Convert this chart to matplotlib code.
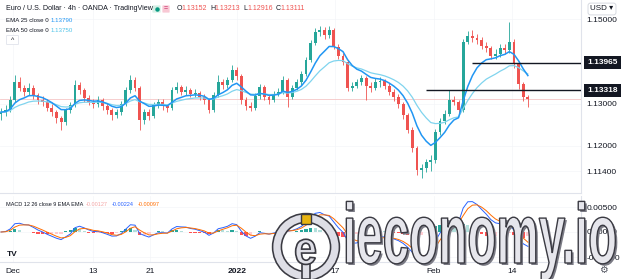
import matplotlib
matplotlib.use("Agg")
import matplotlib.pyplot as plt
import matplotlib.transforms as mtrans
import numpy as np
import pandas as pd
from matplotlib.patches import Circle, Rectangle, PathPatch, FancyBboxPatch
from matplotlib.textpath import TextPath
from matplotlib.font_manager import FontProperties

# EUR/USD, one candle per half trading day
closes = [1.1280, 1.1285, 1.1309, 1.1351, 1.1337, 1.1328, 1.1337, 1.1321, 1.1309, 1.1304,
          1.1290, 1.1280, 1.1266, 1.1257, 1.1285, 1.1297, 1.1344, 1.1332, 1.1313, 1.1304,
          1.1299, 1.1309, 1.1295, 1.1285, 1.1273, 1.1280, 1.1299, 1.1332, 1.1356, 1.1337,
          1.1261, 1.1280, 1.1271, 1.1297, 1.1304, 1.1295, 1.1290, 1.1332, 1.1339, 1.1328,
          1.1332, 1.1323, 1.1325, 1.1316, 1.1309, 1.1285, 1.1321, 1.1351, 1.1344, 1.1356,
          1.1380, 1.1365, 1.1309, 1.1295, 1.1290, 1.1318, 1.1339, 1.1316, 1.1309, 1.1323,
          1.1328, 1.1356, 1.1316, 1.1337, 1.1351, 1.1370, 1.1403, 1.1443, 1.1469, 1.1474,
          1.1462, 1.1474, 1.1434, 1.1413, 1.1398, 1.1337, 1.1342, 1.1351, 1.1361, 1.1342,
          1.1337, 1.1351, 1.1353, 1.1342, 1.1328, 1.1316, 1.1299, 1.1273, 1.1238, 1.1195,
          1.1143, 1.1148, 1.1162, 1.1167, 1.1233, 1.1259, 1.1276, 1.1309, 1.1304, 1.1285,
          1.1446, 1.1460, 1.1455, 1.1450, 1.1436, 1.1431, 1.1413, 1.1417, 1.1431, 1.1427,
          1.1446, 1.1394, 1.1347, 1.1316, 1.1311]
highs = [1.1290, 1.1296, 1.1318, 1.1367, 1.1362, 1.1345, 1.1348, 1.1343, 1.1326, 1.1318,
         1.1310, 1.1298, 1.1286, 1.1272, 1.1290, 1.1305, 1.1356, 1.1350, 1.1337, 1.1320,
         1.1312, 1.1318, 1.1314, 1.1301, 1.1290, 1.1288, 1.1306, 1.1340, 1.1368, 1.1362,
         1.1341, 1.1288, 1.1287, 1.1304, 1.1312, 1.1310, 1.1300, 1.1340, 1.1350, 1.1345,
         1.1341, 1.1338, 1.1334, 1.1330, 1.1322, 1.1314, 1.1328, 1.1367, 1.1358, 1.1363,
         1.1392, 1.1386, 1.1370, 1.1316, 1.1304, 1.1325, 1.1346, 1.1344, 1.1322, 1.1330,
         1.1336, 1.1366, 1.1360, 1.1345, 1.1358, 1.1378, 1.1410, 1.1450, 1.1478, 1.1483,
         1.1480, 1.1484, 1.1478, 1.1440, 1.1420, 1.1402, 1.1350, 1.1358, 1.1368, 1.1365,
         1.1350, 1.1360, 1.1362, 1.1358, 1.1348, 1.1334, 1.1322, 1.1304, 1.1278, 1.1244,
         1.1200, 1.1157, 1.1170, 1.1178, 1.1240, 1.1266, 1.1285, 1.1333, 1.1318, 1.1308,
         1.1452, 1.1472, 1.1474, 1.1465, 1.1458, 1.1445, 1.1436, 1.1428, 1.1440, 1.1440,
         1.1493, 1.1452, 1.1400, 1.1352, 1.1321]
lows = [1.1262, 1.1271, 1.1280, 1.1303, 1.1330, 1.1318, 1.1320, 1.1312, 1.1300, 1.1294,
        1.1282, 1.1270, 1.1255, 1.1238, 1.1250, 1.1278, 1.1292, 1.1322, 1.1305, 1.1296,
        1.1290, 1.1292, 1.1286, 1.1276, 1.1262, 1.1265, 1.1274, 1.1294, 1.1326, 1.1330,
        1.1238, 1.1252, 1.1262, 1.1265, 1.1290, 1.1286, 1.1280, 1.1285, 1.1325, 1.1320,
        1.1321, 1.1315, 1.1316, 1.1308, 1.1300, 1.1277, 1.1280, 1.1316, 1.1335, 1.1338,
        1.1350, 1.1356, 1.1300, 1.1285, 1.1282, 1.1285, 1.1312, 1.1308, 1.1300, 1.1303,
        1.1318, 1.1322, 1.1292, 1.1310, 1.1332, 1.1345, 1.1365, 1.1398, 1.1438, 1.1460,
        1.1452, 1.1456, 1.1428, 1.1405, 1.1392, 1.1330, 1.1330, 1.1336, 1.1345, 1.1308,
        1.1328, 1.1332, 1.1340, 1.1335, 1.1320, 1.1306, 1.1290, 1.1264, 1.1230, 1.1185,
        1.1132, 1.1124, 1.1138, 1.1140, 1.1160, 1.1226, 1.1252, 1.1270, 1.1296, 1.1276,
        1.1280, 1.1440, 1.1446, 1.1440, 1.1428, 1.1422, 1.1405, 1.1406, 1.1410, 1.1418,
        1.1420, 1.1385, 1.1335, 1.1306, 1.1292]
first_open = 1.1275

date_pos = [2.6, 19.9, 32.3, 51.1, 72.3, 93.7, 110.6]
date_lbl = ["Dec", "13", "21", "2022", "17", "Feb", "14"]
price_ticks = [1.15, 1.13, 1.12, 1.114]
macd_ticks = [0.005, 0.0, -0.005]
levels = [1.13965, 1.13318]
level_from = [102, 92]
last_price = 1.13111

GREEN, RED = "#26a69a", "#ef5350"
EMA_FAST, EMA_SLOW = "#2196f3", "#80d4ee"
W, H = 624, 279

c = np.array(closes)
o = np.array([first_open] + closes[:-1])
idx = np.arange(len(c))
up = c >= o
col = np.where(up, GREEN, RED)

# indicators (periods scaled to half-day candles)
s = pd.Series(c)
ema25 = s.ewm(span=8, adjust=False).mean()
ema50 = s.ewm(span=17, adjust=False).mean()
macd = s.ewm(span=4, adjust=False).mean() - s.ewm(span=9, adjust=False).mean()
signal = macd.ewm(span=3, adjust=False).mean()
hist = (macd - signal).values
prev = np.r_[0, hist[:-1]]
hcol = np.where(hist >= 0, np.where(hist > prev, "#26a69a", "#b2dfdb"),
                np.where(hist > prev, "#ffcdd2", "#ff5252"))


def frame(x0, y0, x1, y1):
    return [x0 / W, 1 - y1 / H, (x1 - x0) / W, (y1 - y0) / H]


plt.rcParams['font.family'] = ['Liberation Sans', 'DejaVu Sans']
fig = plt.figure(figsize=(6.24, 2.79), dpi=100)
ax = fig.add_axes(frame(0, 0, 581, 193))
axm = fig.add_axes(frame(0, 196, 581, 262), sharex=ax)

# candles
ax.vlines(idx, lows, highs, colors=col, lw=0.6, zorder=2)
ax.bar(idx, np.maximum(np.abs(c - o), 0.00005), bottom=np.minimum(o, c),
       width=0.62, color=col, zorder=3)
ax.plot(idx, ema50, color=EMA_SLOW, lw=0.9, zorder=4)
ax.plot(idx, ema25, color=EMA_FAST, lw=1.1, zorder=5)
ax.axhline(last_price, color="#f5c6c6", lw=0.6, zorder=1)
for lv, x0 in zip(levels, level_from):
    ax.hlines(lv, x0, 125.5, color="#131722", lw=1.0, zorder=6)
    ax.text(1.037, lv, f"{lv:.5f}", transform=ax.get_yaxis_transform(),
            ha="center", va="center", fontsize=6, color="white", weight="bold",
            bbox=dict(boxstyle="square,pad=0.35", fc="#131722", ec="none"), clip_on=False)

ax.set_xlim(-0.22, 125.5)
ax.set_ylim(1.10889, 1.15449)
ax.set_yticks(price_ticks)
ax.set_yticklabels([f"{v:.5f}" for v in price_ticks])

# MACD pane
axm.bar(idx, hist, width=0.7, color=hcol, zorder=2)
axm.plot(idx, macd, color="#2962ff", lw=0.7, zorder=3)
axm.plot(idx, signal, color="#ff6d00", lw=0.7, zorder=3)
axm.set_ylim(-0.006, 0.0072)
axm.set_yticks(macd_ticks)
axm.set_yticklabels(["0.00500", "0.00000", "-0.00500"])
axm.set_xticks(date_pos)
axm.set_xticklabels(date_lbl)
axm.get_xticklabels()[3].set_fontweight("bold")

for a in (ax, axm):
    a.yaxis.tick_right()
    a.tick_params(axis="y", length=0, pad=4, labelsize=6, labelcolor="#131722")
    a.tick_params(axis="x", length=0, pad=4, labelsize=6, labelcolor="#131722")
    for sp in ("top", "left"):
        a.spines[sp].set_visible(False)
    for sp in ("right", "bottom"):
        a.spines[sp].set_color("#e0e3eb")
        a.spines[sp].set_linewidth(0.8)
    a.grid(color="#f4f5f8", lw=0.5, zorder=0)
    a.set_axisbelow(True)
ax.tick_params(axis="x", labelbottom=False)

# overlay in pixel coordinates for header texts and watermark
ov = fig.add_axes([0, 0, 1, 1], zorder=10)
ov.set_xlim(0, W)
ov.set_ylim(H, 0)
ov.axis("off")
ov.patch.set_alpha(0)

ov.text(6, 9, "Euro / U.S. Dollar · 4h · OANDA · TradingView", fontsize=5.1,
        color="#131722", va="center")
ov.add_patch(FancyBboxPatch((153, 6), 7, 6, boxstyle="round,pad=0.6", fc="#d4f0e6", ec="none"))
ov.plot(156.5, 9, "o", ms=2.2, color="#089981")
ov.add_patch(FancyBboxPatch((163, 6), 6, 6, boxstyle="round,pad=0.6", fc="#f8c8d4", ec="none"))
ov.text(166, 9, "=", fontsize=5, color="#c2185b", ha="center", va="center")
for k, (lab, val) in enumerate(zip("OHLC", ["1.13152", "1.13213", "1.12916", "1.13111"])):
    x = 177 + 33 * k
    ov.text(x, 9, lab, fontsize=5, color="#131722", va="center")
    ov.text(x + 4.5, 9, val, fontsize=5, color=RED, va="center")

ov.text(6, 20, "EMA 25 close 0", fontsize=4.4, color="#131722", va="center")
ov.text(51, 20, "1.13790", fontsize=4.4, color=EMA_FAST, va="center")
ov.text(6, 30, "EMA 50 close 0", fontsize=4.4, color="#131722", va="center")
ov.text(51, 30, "1.13750", fontsize=4.4, color="#4fc3e8", va="center")
ov.add_patch(FancyBboxPatch((7, 36), 11, 8, boxstyle="round,pad=0.5", fc="white", ec="#e0e3eb", lw=0.6))
ov.text(12.5, 41, "^", fontsize=5, color="#131722", ha="center", va="center")

ov.text(602, 9, "USD ▾", fontsize=5.8, color="#131722", ha="center", va="center",
        bbox=dict(boxstyle="round,pad=0.3", fc="white", ec="#d1d4dc", lw=0.6))

ov.text(6, 205, "MACD 12 26 close 9 EMA EMA", fontsize=4.0, color="#131722", va="center")
ov.text(86, 205, "-0.00127", fontsize=4.0, color="#f4a6a6", va="center")
ov.text(112, 205, "-0.00224", fontsize=4.0, color="#2962ff", va="center")
ov.text(138, 205, "-0.00097", fontsize=4.0, color="#ff6d00", va="center")
ov.text(12, 254, "TV", fontsize=6, weight="heavy", color="#131722", ha="center", va="center")
ov.text(603, 270, "⚙", fontsize=7, color="#50535e", ha="center", va="center",
        family="DejaVu Sans")

# watermark logo
ov.add_patch(Circle((306, 247), 29, fill=False, ec="#3a3a42", lw=7.5, zorder=20))
ov.add_patch(Circle((306, 247), 29, fill=False, ec="#dedee6", lw=5.2, zorder=21))
ov.add_patch(Rectangle((301, 214), 10, 10, fc="#e8b410", ec="#3a3a42", lw=1, zorder=22))
ov.add_patch(Rectangle((302, 262), 8, 17, fc="#dedee6", ec="#3a3a42", lw=1.2, zorder=22))
fp = FontProperties(family="Liberation Sans", weight="bold")
tp_e = TextPath((0, 0), "e", size=46, prop=fp)
tr_e = mtrans.Affine2D().scale(0.9, -1.0).translate(294, 264)
ov.add_patch(PathPatch(tr_e.transform_path(tp_e), fc="#dedee6", ec="#3a3a42", lw=1.2, zorder=22))

tp = TextPath((0, 0), "ieconomy.io", size=85, prop=fp)
shadow = mtrans.Affine2D().scale(0.56, -1.0).translate(345, 265)
front = mtrans.Affine2D().scale(0.56, -1.0).translate(343, 263)
ov.add_patch(PathPatch(shadow.transform_path(tp), fc="#7a7a84", ec="none", zorder=20))
ov.add_patch(PathPatch(front.transform_path(tp), fc="#e6e6ec", ec="#3a3a42", lw=1.0, zorder=21))

fig.savefig("out.png", dpi=100)
